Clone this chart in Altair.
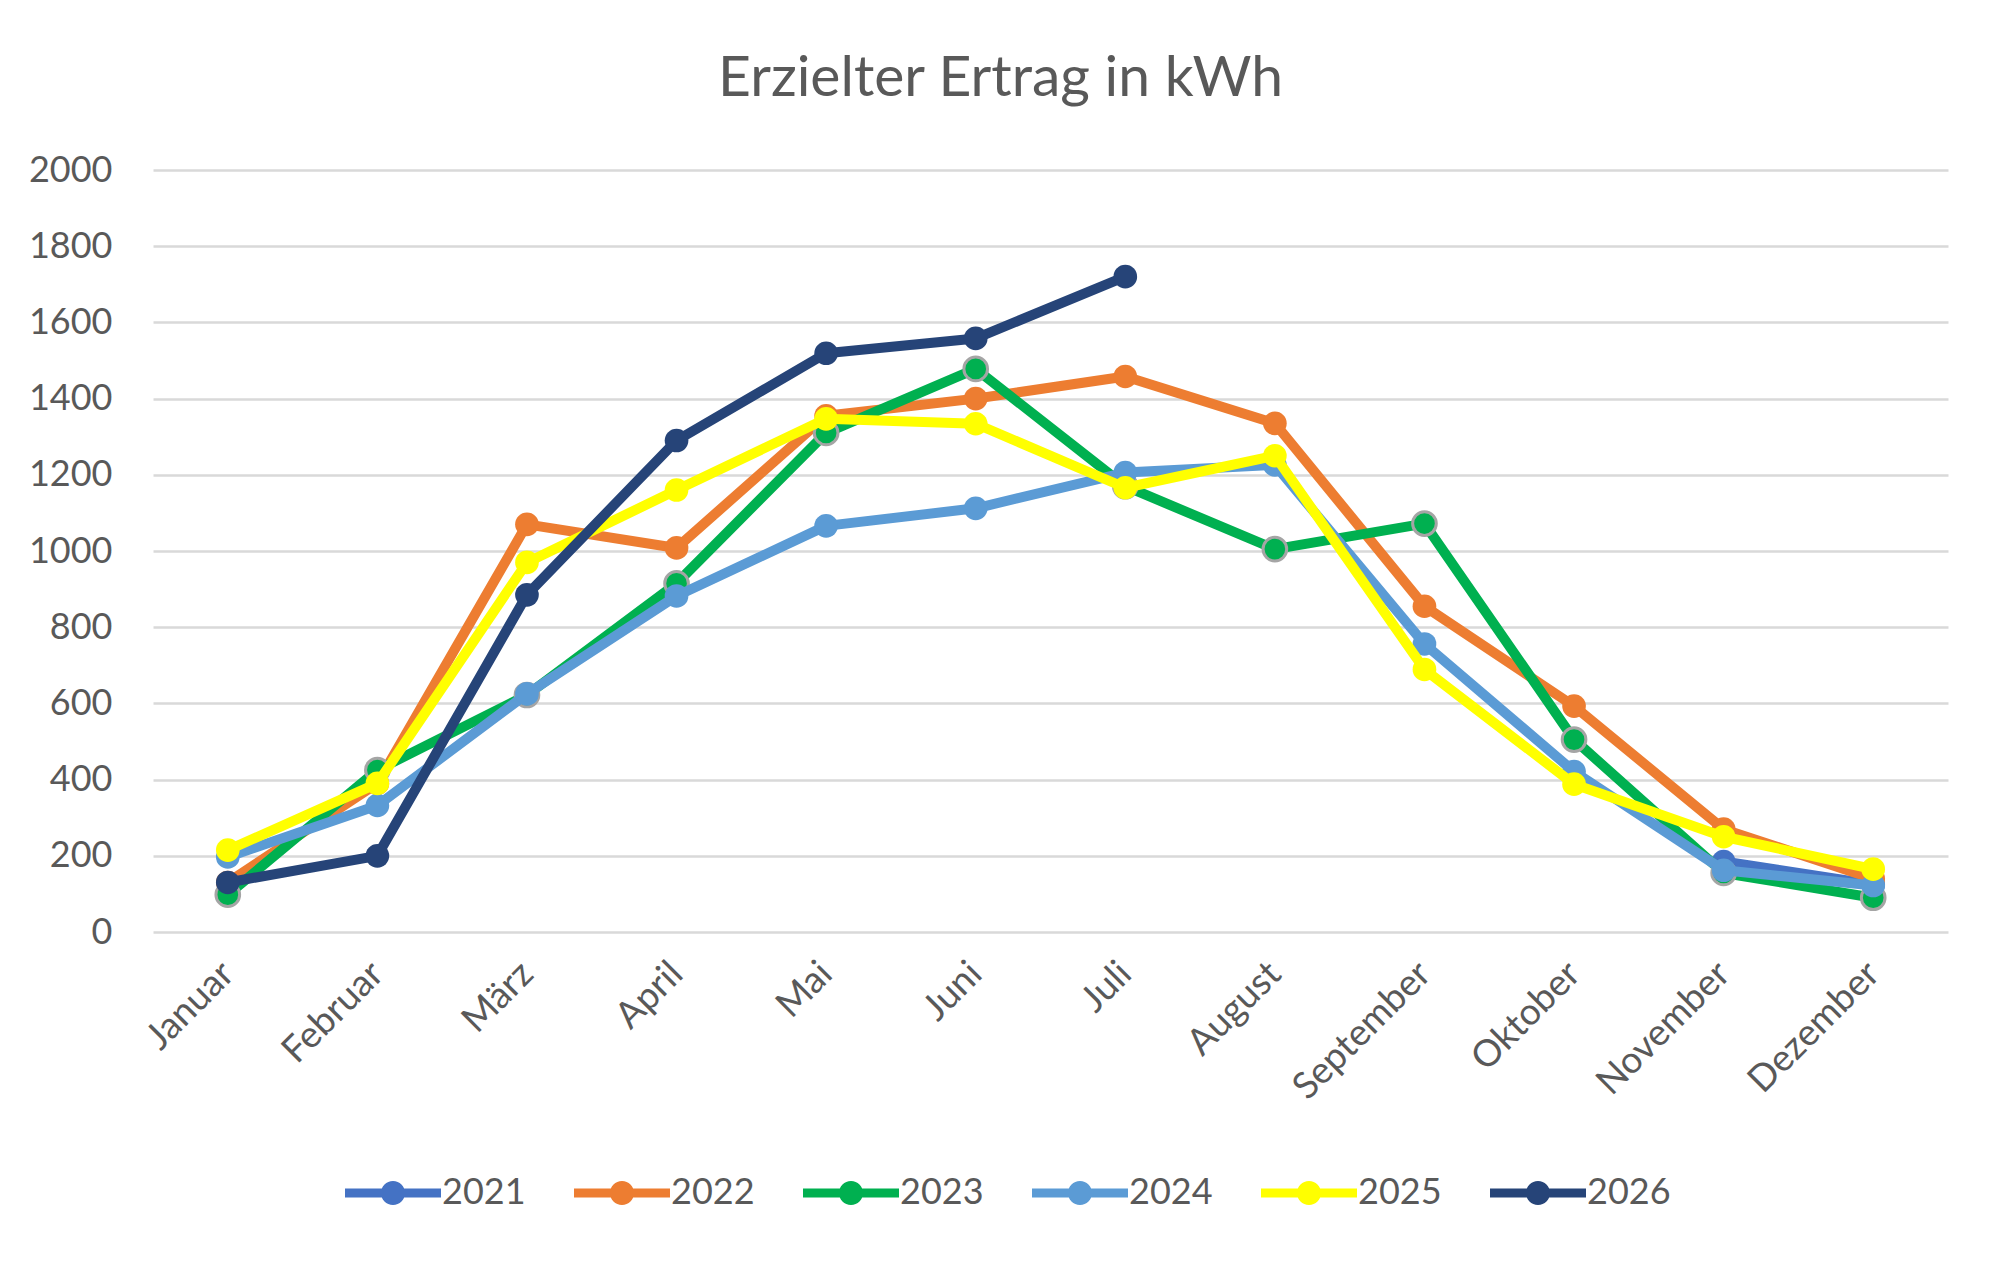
import altair as alt
import pandas as pd

months = ["Januar", "Februar", "März", "April", "Mai", "Juni", "Juli",
          "August", "September", "Oktober", "November", "Dezember"]
years = ["2021", "2022", "2023", "2024", "2025", "2026"]
colors = ["#4472C4", "#ED7D31", "#00B050", "#5B9BD5", "#FFFF00", "#264478"]

y2021 = [None, None, None, None, None, None, None, None, None, None, 185, 125]
y2022 = [130, 390, 1070, 1008, 1355, 1400, 1458, 1335, 855, 593, 270, 140]
y2023 = [98, 425, 622, 915, 1310, 1478, 1170, 1005, 1072, 505, 155, 90]
y2024 = [197, 332, 625, 882, 1066, 1112, 1206, 1226, 756, 421, 162, 122]
y2025 = [215, 390, 970, 1160, 1347, 1334, 1166, 1250, 689, 388, 250, 165]
y2026 = [130, 200, 885, 1290, 1519, 1558, 1720, None, None, None, None, None]

series = dict(zip(years, [y2021, y2022, y2023, y2024, y2025, y2026]))
rows = []
for yr, vals in series.items():
    for m, v in zip(months, vals):
        if v is not None:
            rows.append({"Monat": m, "Jahr": yr, "Ertrag": v})
df = pd.DataFrame(rows)

FONT = "Lato"
TXT = "#595959"

legend_path = ("M-4,-0.375 L4,-0.375 L4,0.375 L-4,0.375 Z "
               "M1,0 A1,1 0 1,1 -1,0 A1,1 0 1,1 1,0 Z")

x_enc = alt.X("Monat:N", sort=months, title=None,
              scale=alt.Scale(type="point", padding=0.5),
              axis=alt.Axis(labelAngle=-45, labelAlign="right", labelBaseline="middle",
                            labelPadding=36, labelFontSize=37, labelFont=FONT,
                            labelColor=TXT, domain=False, ticks=False, grid=False))
y_enc = alt.Y("Ertrag:Q", title=None,
              scale=alt.Scale(domain=[0, 2000], nice=False),
              axis=alt.Axis(values=list(range(0, 2001, 200)), format="d",
                            labelFontSize=36, labelFont=FONT, labelColor=TXT,
                            labelPadding=41, domain=False, ticks=False, grid=True,
                            gridColor="#D9D9D9", gridWidth=2.5))

color_enc = alt.Color("Jahr:N", scale=alt.Scale(domain=years, range=colors),
                      legend=alt.Legend(orient="none", legendX=222, legendY=1005,
                                        direction="horizontal", columns=6, title=None,
                                        symbolType=legend_path, symbolSize=576,
                                        symbolStrokeWidth=0, labelFontSize=36,
                                        labelFont=FONT, labelColor=TXT,
                                        labelOffset=31, columnPadding=48, padding=0))

base = alt.Chart(df)
layers = []
for yr, col in zip(years, colors):
    sub = base.transform_filter(alt.datum.Jahr == yr)
    line = sub.mark_line(strokeWidth=10, color=col, strokeCap="round",
                         strokeJoin="round").encode(x=x_enc, y=y_enc)
    pkw = dict(filled=True, size=560, opacity=1)
    if yr == "2023":
        pkw.update(stroke="#A5A5A5", strokeWidth=3)
    else:
        pkw.update(strokeWidth=0)
    pts = sub.mark_point(**pkw).encode(x=x_enc, y=y_enc, color=color_enc)
    layers += [line, pts]

chart = alt.layer(*layers).properties(
    width=1795, height=762,
    autosize="none",
    padding={"left": 145, "top": 162, "right": 40, "bottom": 310},
    title=alt.TitleParams("Erzielter Ertrag in kWh", fontSize=57, font=FONT,
                          color=TXT, fontWeight="normal", anchor="middle",
                          frame="group", dx=-50, dy=62, offset=61,
                          baseline="alphabetic"),
).configure(background="white").configure_view(stroke=None)

chart.save("out.html", embed_options={"renderer": "svg", "actions": False})
